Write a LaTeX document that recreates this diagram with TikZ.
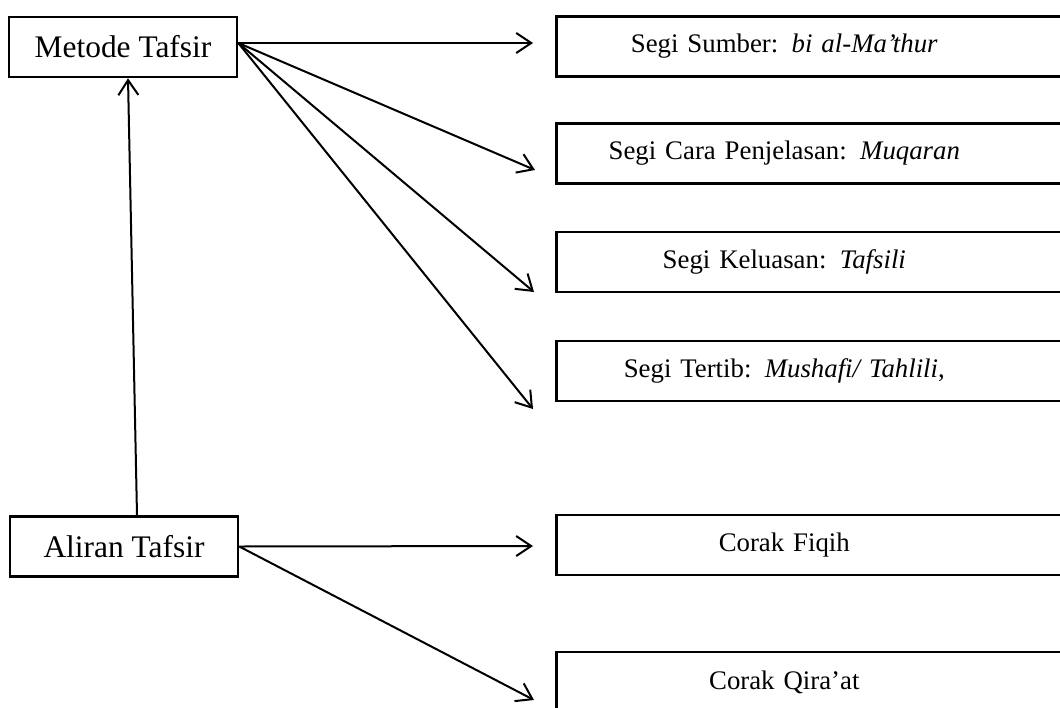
\documentclass[tikz,border=0pt]{standalone}
\usepackage{fontspec}
\setmainfont{Liberation Serif}
\usetikzlibrary{arrows.meta}
\newcommand{\segtext}[1]{\makebox[228pt]{#1}}

\begin{document}
\begin{tikzpicture}[x=0.5pt,y=-0.5pt,
		lbox/.style={draw, line width=1.3pt, minimum width=114pt, minimum height=30pt, font=\fontsize{15.7}{19}\selectfont},
		rbox/.style={draw, line width=1.3pt, anchor=west, minimum height=30pt, inner xsep=0pt, text width=260pt, align=left, font=\fontsize{13.4}{16}\selectfont},
		arr/.style={-{Straight Barb[length=7.5pt,width=10pt]}, line width=1pt}]
		\useasboundingbox (0,0) rectangle (1060,707);
		\clip (0,0) rectangle (1060,707);
		\node[lbox] (metode) at (123,47) {Metode Tafsir};
		\node[lbox] (aliran) at (124,546.5) {Aliran Tafsir};
		
		\node[rbox] (sumber) at (555,46.5) {\segtext{Segi Sumber: \textit{bi al-Ma'thur}}};
		\node[rbox] (cara) at (555,153.5) {\segtext{Segi Cara Penjelasan: \textit{Muqaran}}};
		\node[rbox] (keluasan) at (555,262) {\segtext{Segi Keluasan: \textit{Tafsili}}};
		\node[rbox] (tertib) at (555,371) {\segtext{Segi Tertib: \textit{Mushafi/ Tahlili},}};
		\node[rbox] (fiqih) at (555,545) {\segtext{Corak Fiqih}};
		\node[rbox] (qiraat) at (555,682) {\segtext{Corak Qira'at}};
		
		\coordinate (t1) at (533,43);
		\coordinate (t2) at (535,170);
		\coordinate (t3) at (534,292);
		\coordinate (t4) at (533,409);
		\coordinate (t5) at (533,546);
		\coordinate (t6) at (534,700);
		
		\foreach \t in {t1,t2,t3,t4}
			\draw[arr] ([yshift=2pt]metode.east) -- (\t);
		\foreach \t in {t5,t6}
			\draw[arr] (aliran.east) -- (\t);
		\draw[arr] ([xshift=6.5pt]aliran.north) -- ([xshift=2.5pt]metode.south);
	\end{tikzpicture}
\end{document}
